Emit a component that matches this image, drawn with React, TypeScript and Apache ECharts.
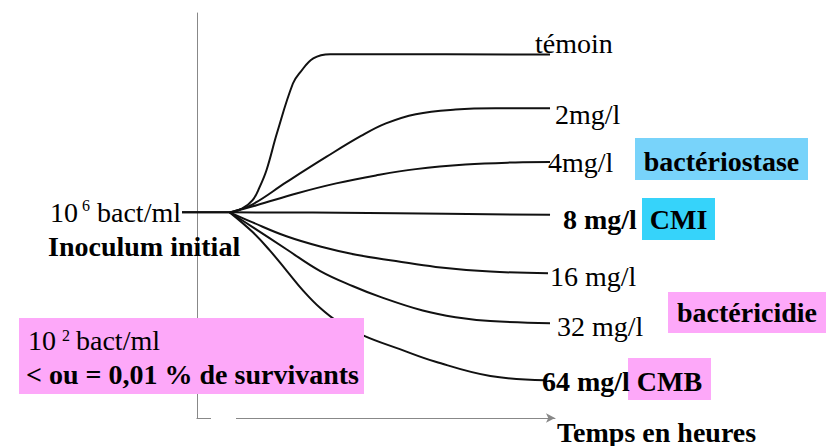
import React, { useEffect, useRef } from "react";
import * as echarts from "echarts";

// Time in hours (x) vs log10(bact/ml) (y)
const temoinCurve: number[][] = [[-1.5, 6], [3.3, 6], [4.6, 6.1], [5.6, 6.29], [6.3, 6.6], [7.0, 7.01], [8.05, 7.89], [9.65, 9.07], [10.4, 9.34], [11.7, 9.67], [13.4, 9.77], [20, 9.77], [35.5, 9.76]];
const mg2Curve: number[][] = [[3.3, 6], [5.5, 6.18], [9, 6.72], [13, 7.32], [16.5, 7.82], [19, 8.12], [22, 8.34], [26, 8.45], [30, 8.48], [35.5, 8.48]];
const mg4Curve: number[][] = [[3.3, 6], [6, 6.17], [10, 6.45], [14, 6.69], [18, 6.88], [22, 7.03], [27, 7.14], [32, 7.19], [35.5, 7.2]];
const mg8Curve: number[][] = [[-1.5, 6], [3.3, 6], [20, 5.98], [35.5, 5.94]];
const mg16Curve: number[][] = [[3.3, 6], [5.6, 5.76], [9, 5.43], [12.5, 5.18], [16, 4.99], [20, 4.84], [24, 4.7], [29.5, 4.59], [35.3, 4.55]];
const mg32Curve: number[][] = [[3.3, 6], [5.6, 5.65], [9, 5.12], [12.4, 4.6], [15.7, 4.24], [18.5, 3.98], [22.7, 3.66], [26, 3.5], [29.5, 3.41], [35.5, 3.36]];
const mg64Curve: number[][] = [[3.3, 6], [5.6, 5.53], [7.3, 5.1], [9.05, 4.6], [10.7, 4.13], [12.4, 3.72], [14.2, 3.39], [16.7, 3.07], [20.4, 2.74], [24, 2.44], [29.5, 2.1], [35, 2.0]];

const seriesNames = ["témoin", "2mg/l", "4mg/l", "8 mg/l", "16 mg/l", "32 mg/l", "64 mg/l"];
const seriesData = [temoinCurve, mg2Curve, mg4Curve, mg8Curve, mg16Curve, mg32Curve, mg64Curve];

const xRange = [-1.5, 36];
const yRange = [1.1, 10.75];

const FONT = '"Liberation Serif", "Times New Roman", serif';
const BLUE_LIGHT = "#78D3FA";
const BLUE = "#36D3FA";
const PINK = "#FDA8F9";

function txt(text: string, x: number, y: number, opts: any = {}) {
  return {
    type: "text",
    x,
    y,
    z: 20,
    style: {
      text,
      fill: "#000",
      fontFamily: FONT,
      fontSize: opts.size ?? 28,
      fontWeight: opts.bold ? "bold" : "normal",
      align: opts.align ?? "left",
      verticalAlign: "middle",
    },
  };
}

function box(x: number, y: number, w: number, h: number, fill: string) {
  return { type: "rect", z: 15, shape: { x, y, width: w, height: h }, style: { fill } };
}

export default function App() {
  const ref = useRef<HTMLDivElement>(null);
  useEffect(() => {
    document.body.style.margin = "0";
    const chart = echarts.init(ref.current!, null, { renderer: "svg" });
    chart.setOption({
      animation: false,
      backgroundColor: "#fff",
      grid: { left: 182, top: 13, width: 373, height: 405 },
      xAxis: {
        type: "value",
        min: xRange[0],
        max: xRange[1],
        axisLine: { show: true, onZero: false, symbol: ["none", "arrow"], symbolSize: [7, 9], lineStyle: { color: "#888", width: 1 } },
        axisTick: { show: false },
        axisLabel: { show: false },
        splitLine: { show: false },
      },
      yAxis: {
        type: "value",
        min: yRange[0],
        max: yRange[1],
        axisLine: { show: true, onZero: true, lineStyle: { color: "#888", width: 1 } },
        axisTick: { show: false },
        axisLabel: { show: false },
        splitLine: { show: false },
      },
      series: seriesData.map((d, i) => ({
        name: seriesNames[i],
        type: "line",
        data: d,
        clip: false,
        showSymbol: false,
        symbol: "none",
        smooth: 0.4,
        lineStyle: { color: "#111", width: 2 },
        z: 2,
      })),
      graphic: [
        // hide time axis left of origin and the small gap near the origin
        { type: "rect", z: 14, shape: { x: 178, y: 414, width: 18.5, height: 9 }, style: { fill: "#fff" } },
        { type: "rect", z: 14, shape: { x: 211, y: 414, width: 25, height: 9 }, style: { fill: "#fff" } },
        box(635, 138, 173, 42, BLUE_LIGHT),
        box(642, 198, 73, 42, BLUE),
        box(668, 292, 158, 41, PINK),
        box(628, 358, 83, 42, PINK),
        box(19, 318, 345, 76, PINK),
        txt("témoin", 535, 43),
        txt("2mg/l", 555, 114),
        txt("4mg/l", 548, 162.5),
        txt("8 mg/l", 563, 219, { bold: true }),
        txt("16 mg/l", 550, 276),
        txt("32 mg/l", 557, 326),
        txt("64 mg/l", 542, 381, { bold: true }),
        txt("Temps en heures", 557, 432, { bold: true }),
        txt("bactériostase", 721.5, 161, { bold: true, align: "center" }),
        txt("CMI", 678.5, 219, { bold: true, align: "center" }),
        txt("bactéricidie", 747, 312.5, { bold: true, align: "center" }),
        txt("CMB", 669.5, 381, { bold: true, align: "center" }),
        txt("10", 50, 212.5),
        txt("6", 82, 205, { size: 16 }),
        txt("bact/ml", 97, 212.5),
        txt("Inoculum initial", 48, 246, { bold: true }),
        txt("10", 28, 340),
        txt("2", 62, 335, { size: 16 }),
        txt("bact/ml", 76, 340),
        txt("< ou = 0,01 % de survivants", 26, 374, { bold: true }),
      ],
    });
    return () => chart.dispose();
  }, []);
  return <div ref={ref} style={{ position: "fixed", left: 0, top: 0, width: 832, height: 446 }} />;
}
